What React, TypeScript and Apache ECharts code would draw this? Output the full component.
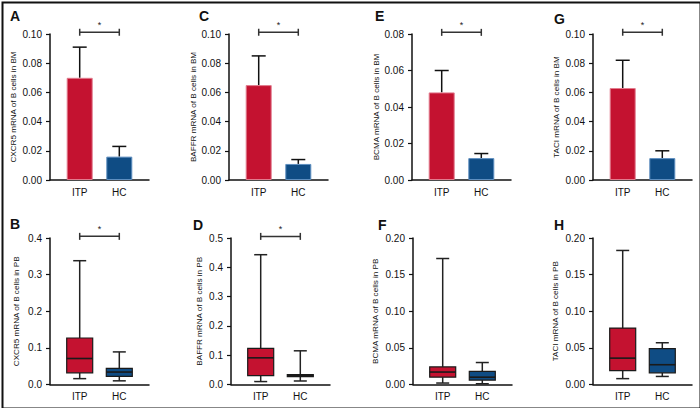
import React, { useEffect, useRef } from 'react';
import * as echarts from 'echarts';

// ---- categories ----
const groups = ['ITP', 'HC'];
const slots = ['', 'ITP', '', 'HC', ''];
const groupSlot = [1, 3];
const groupColors = ['#C41230', '#0F4C84'];
const groupEdges = ['#E27C8E', '#5E8FC0'];

// ---- bone marrow (bars: mean, upper error) ----
const cxcr5BmMean = [0.070, 0.016];
const cxcr5BmErr = [0.021, 0.007];
const baffrBmMean = [0.065, 0.011];
const baffrBmErr = [0.020, 0.003];
const bcmaBmMean = [0.048, 0.012];
const bcmaBmErr = [0.012, 0.0025];
const taciBmMean = [0.063, 0.015];
const taciBmErr = [0.019, 0.005];

// ---- peripheral blood (boxes: min, Q1, median, Q3, max) ----
const cxcr5PbItp = [0.016, 0.032, 0.071, 0.127, 0.338];
const cxcr5PbHc = [0.010, 0.022, 0.034, 0.044, 0.089];
const baffrPbItp = [0.010, 0.030, 0.091, 0.123, 0.443];
const baffrPbHc = [0.012, 0.027, 0.030, 0.034, 0.115];
const bcmaPbItp = [0.002, 0.010, 0.017, 0.024, 0.172];
const bcmaPbHc = [0.001, 0.006, 0.010, 0.018, 0.030];
const taciPbItp = [0.008, 0.019, 0.036, 0.077, 0.183];
const taciPbHc = [0.011, 0.016, 0.027, 0.049, 0.057];

// ---- y axis ticks ----
const bmMax = [0.10, 0.10, 0.08, 0.10];
const bmInterval = [0.02, 0.02, 0.02, 0.02];
const pbMax = [0.4, 0.5, 0.20, 0.20];
const pbInterval = [0.1, 0.1, 0.05, 0.05];
const pbDecimals = [1, 1, 2, 2];

// significance bracket level (value units) or null
const bmSig = [0.1012, 0.1012, 0.0809, 0.1012];
const pbSig = [0.4045, 0.5055, null, null];

const bmNames = ['CXCR5 mRNA of B cells in BM', 'BAFFR mRNA of B cells in BM', 'BCMA mRNA of B cells in BM', 'TACI mRNA of B cells in BM'];
const pbNames = ['CXCR5 mRNA of B cells in PB', 'BAFFR mRNA of B cells in PB', 'BCMA mRNA of B cells in PB', 'TACI mRNA of B cells in PB'];
const bmLetters = ['A', 'C', 'E', 'G'];
const pbLetters = ['B', 'D', 'F', 'H'];

const bmMeans = [cxcr5BmMean, baffrBmMean, bcmaBmMean, taciBmMean];
const bmErrs = [cxcr5BmErr, baffrBmErr, bcmaBmErr, taciBmErr];
const pbBoxes = [[cxcr5PbItp, cxcr5PbHc], [baffrPbItp, baffrPbHc], [bcmaPbItp, bcmaPbHc], [taciPbItp, taciPbHc]];

// layout
const bmLeft = [50, 229, 412, 593];
const pbLeft = [50, 231, 413, 593];
const gridW = 99;
const bmTop = 34, bmH = 146;
const pbTop = 238, pbH = 146.5;
const bmNameGap = [33, 23.5, 31.5, 33];
const pbNameGap = [30, 27.5, 33.5, 33.5];
const bmLetterPos = [[10, 9], [199, 9], [375, 9], [554, 12]];
const pbLetterPos = [[10, 217], [193, 218], [378, 218], [554, 218]];

const FONT = "'Liberation Sans', Arial, sans-serif";

function buildOption() {
  const grid: any[] = [];
  const xAxis: any[] = [];
  const yAxis: any[] = [];
  const series: any[] = [];
  const graphic: any[] = [];

  const addAxes = (left: number, top: number, h: number, max: number, interval: number, dec: number, name: string, gap: number) => {
    const gi = grid.length;
    grid.push({ left, top, width: gridW, height: h, containLabel: false });
    xAxis.push({
      type: 'category', gridIndex: gi, data: slots,
      axisLine: { lineStyle: { color: '#111', width: 1.5 } },
      axisTick: { alignWithLabel: true, interval: (i: number) => slots[i] !== '', length: 4, lineStyle: { color: '#111', width: 1.2 } },
      axisLabel: { interval: 0, margin: 7, color: '#111', fontSize: 10, fontFamily: FONT },
      splitLine: { show: false },
    });
    yAxis.push({
      type: 'value', gridIndex: gi, min: 0, max, interval,
      name, nameLocation: 'middle', nameGap: gap,
      nameTextStyle: { fontSize: 8.1, fontFamily: FONT, color: '#111' },
      axisLine: { show: true, lineStyle: { color: '#111', width: 1.5 } },
      axisTick: { show: true, length: 4, lineStyle: { color: '#111', width: 1.2 } },
      axisLabel: { margin: 8, color: '#111', fontSize: 10, fontFamily: FONT, formatter: (v: number) => v.toFixed(dec) },
      splitLine: { show: false },
    });
    return gi;
  };

  const addBracket = (gi: number, level: number) => {
    series.push({
      type: 'custom', xAxisIndex: gi, yAxisIndex: gi, clip: false, silent: true, z: 5,
      data: [[groupSlot[0], groupSlot[1], level]],
      renderItem: (_p: any, api: any) => {
        const a = api.coord([api.value(0), api.value(2)]);
        const b = api.coord([api.value(1), api.value(2)]);
        const st = { stroke: '#333', lineWidth: 1.5 };
        return {
          type: 'group', children: [
            { type: 'line', shape: { x1: a[0], y1: a[1], x2: b[0], y2: b[1] }, style: st },
            { type: 'line', shape: { x1: a[0], y1: a[1] - 3.5, x2: a[0], y2: a[1] + 3.5 }, style: st },
            { type: 'line', shape: { x1: b[0], y1: b[1] - 3.5, x2: b[0], y2: b[1] + 3.5 }, style: st },
            { type: 'text', x: (a[0] + b[0]) / 2, y: a[1] - 3, style: { text: '*', fontSize: 9, fontFamily: FONT, fill: '#222', align: 'center', verticalAlign: 'bottom' } },
          ],
        };
      },
    });
  };

  // top row: bars with error bars
  for (let k = 0; k < 4; k++) {
    const gi = addAxes(bmLeft[k], bmTop, bmH, bmMax[k], bmInterval[k], 2, bmNames[k], bmNameGap[k]);
    const mean = bmMeans[k];
    const err = bmErrs[k];
    series.push({
      type: 'custom', xAxisIndex: gi, yAxisIndex: gi, clip: false, silent: true, z: 1,
      data: groups.map((_g, i) => [groupSlot[i], mean[i], err[i]]),
      renderItem: (_p: any, api: any) => {
        const x = api.value(0), m = api.value(1), e = api.value(2);
        const p0 = api.coord([x, m]);
        const p1 = api.coord([x, m + e]);
        const st = { stroke: '#111', lineWidth: 1.5 };
        return {
          type: 'group', children: [
            { type: 'line', shape: { x1: p0[0], y1: p0[1], x2: p1[0], y2: p1[1] }, style: st },
            { type: 'line', shape: { x1: p1[0] - 7, y1: p1[1], x2: p1[0] + 7, y2: p1[1] }, style: st },
          ],
        };
      },
    });
    series.push({
      type: 'bar', xAxisIndex: gi, yAxisIndex: gi, barWidth: 26, silent: true, z: 3,
      data: slots.map((_s, i) => {
        const g = groupSlot.indexOf(i);
        if (g < 0) return '-';
        return { value: mean[g], itemStyle: { color: groupColors[g], borderColor: groupEdges[g], borderWidth: 1 } };
      }),
    });
    if (bmSig[k] != null) addBracket(gi, bmSig[k] as number);
    graphic.push({ type: 'text', left: bmLetterPos[k][0], top: bmLetterPos[k][1], style: { text: bmLetters[k], font: `bold 14px ${FONT}`, fill: '#111' } });
  }

  // bottom row: box plots
  for (let k = 0; k < 4; k++) {
    const gi = addAxes(pbLeft[k], pbTop, pbH, pbMax[k], pbInterval[k], pbDecimals[k], pbNames[k], pbNameGap[k]);
    const boxes = pbBoxes[k];
    series.push({
      type: 'custom', xAxisIndex: gi, yAxisIndex: gi, clip: false, silent: true, z: 3,
      data: groups.map((_g, i) => [groupSlot[i], ...boxes[i], i]),
      renderItem: (_p: any, api: any) => {
        const x = api.value(0);
        const pMin = api.coord([x, api.value(1)]);
        const pQ1 = api.coord([x, api.value(2)]);
        const pMed = api.coord([x, api.value(3)]);
        const pQ3 = api.coord([x, api.value(4)]);
        const pMax = api.coord([x, api.value(5)]);
        const g = api.value(6);
        const hw = 13, cw = 6.5;
        const ln = { stroke: '#222', lineWidth: 1.5 };
        return {
          type: 'group', children: [
            { type: 'line', shape: { x1: pMin[0], y1: pMin[1], x2: pQ1[0], y2: pQ1[1] }, style: ln },
            { type: 'line', shape: { x1: pQ3[0], y1: pQ3[1], x2: pMax[0], y2: pMax[1] }, style: ln },
            { type: 'line', shape: { x1: pMin[0] - cw, y1: pMin[1], x2: pMin[0] + cw, y2: pMin[1] }, style: ln },
            { type: 'line', shape: { x1: pMax[0] - cw, y1: pMax[1], x2: pMax[0] + cw, y2: pMax[1] }, style: ln },
            { type: 'rect', shape: { x: pQ3[0] - hw, y: pQ3[1], width: hw * 2, height: pQ1[1] - pQ3[1] }, style: { fill: groupColors[g], stroke: '#1a1a1a', lineWidth: 1.2 } },
            { type: 'line', shape: { x1: pMed[0] - hw, y1: pMed[1], x2: pMed[0] + hw, y2: pMed[1] }, style: { stroke: '#1a1a1a', lineWidth: 1.6 } },
          ],
        };
      },
    });
    if (pbSig[k] != null) addBracket(gi, pbSig[k] as number);
    graphic.push({ type: 'text', left: pbLetterPos[k][0], top: pbLetterPos[k][1], style: { text: pbLetters[k], font: `bold 14px ${FONT}`, fill: '#111' } });
  }

  graphic.push({ type: 'rect', left: 0, top: 0, shape: { x: 1, y: 1, width: 698, height: 406 }, style: { fill: 'none', stroke: '#111', lineWidth: 2 }, silent: true, z: 100 });

  return { animation: false, backgroundColor: '#ffffff', grid, xAxis, yAxis, series, graphic };
}

export default function App() {
  const ref = useRef<HTMLDivElement>(null);
  useEffect(() => {
    document.body.style.margin = '0';
    const chart = echarts.init(ref.current as HTMLDivElement, undefined, { renderer: 'svg' });
    chart.setOption(buildOption() as any);
    return () => chart.dispose();
  }, []);
  return <div ref={ref} style={{ position: 'absolute', left: 0, top: 0, width: 700, height: 408 }} />;
}
